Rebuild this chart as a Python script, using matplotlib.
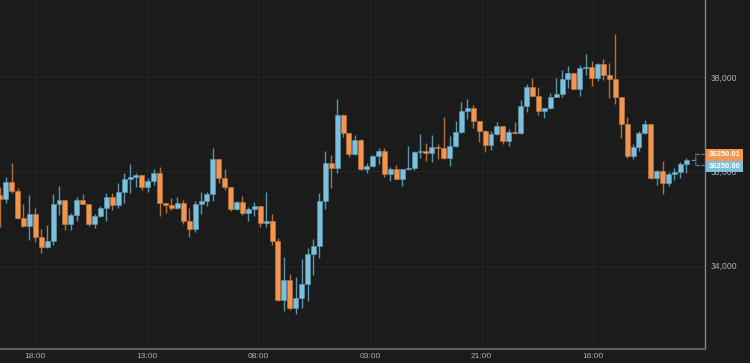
import matplotlib
matplotlib.use("Agg")
import matplotlib.pyplot as plt
import matplotlib.transforms as mtransforms
from matplotlib.ticker import FuncFormatter
import numpy as np

plt.rcParams['font.family'] = ['Liberation Sans', 'DejaVu Sans']

# hourly candles
opens = [35497, 35406, 35766, 35582, 35003, 34839, 35094, 34613, 34394, 34528,
         35300, 35385, 34876, 35066, 35391, 35306, 34876, 35052, 35215, 35448,
         35285, 35567, 35836, 35885, 35921, 35673, 35800, 35970, 35321, 35279,
         35215, 35334, 34952, 34769, 35300, 35363, 35512, 36254, 35851, 35660,
         35200, 35342, 35122, 35200, 35264, 34893, 34952, 34521, 33270, 33694,
         33094, 33323, 33616, 34239, 34426, 35370, 36182, 36063, 37194, 36806,
         36367, 36674, 36042, 36118, 36318, 36426, 35942, 36053, 35841, 36048,
         36070, 36409, 36441, 36398, 36521, 36504, 36282, 36536, 36840, 37289,
         37336, 37073, 36861, 36557, 36791, 36960, 36642, 36840, 36812, 37395,
         37794, 37603, 37283, 37342, 37586, 37639, 37951, 38078, 37741, 38191,
         38222, 37985, 38269, 38036, 37947, 37569, 37003, 36328, 36521, 36806,
         37003, 35868, 36006, 35745, 35936, 35981, 36148]
closes = [35406, 35766, 35582, 35003, 34839, 35094, 34613, 34394, 34528, 35300,
          35385, 34876, 35066, 35391, 35306, 34876, 35052, 35215, 35448, 35285,
          35567, 35836, 35885, 35921, 35673, 35800, 35970, 35321, 35279, 35215,
          35334, 34952, 34769, 35300, 35363, 35512, 36254, 35851, 35660, 35200,
          35342, 35122, 35200, 35264, 34893, 34952, 34521, 33270, 33694, 33094,
          33323, 33616, 34239, 34426, 35370, 36182, 36063, 37194, 36806, 36367,
          36674, 36042, 36118, 36318, 36426, 35942, 36053, 35841, 36048, 36070,
          36409, 36441, 36398, 36521, 36504, 36282, 36536, 36840, 37289, 37336,
          37073, 36861, 36557, 36791, 36960, 36642, 36840, 36812, 37395, 37794,
          37603, 37283, 37342, 37586, 37639, 37951, 38078, 37741, 38191, 38222,
          37985, 38269, 38036, 37947, 37569, 37003, 36328, 36521, 36806, 37003,
          35868, 36006, 35745, 35936, 35981, 36148, 36250]
highs = [35673, 35872, 36182, 35639, 35306, 35497, 35215, 34769, 34854, 35518,
         35694, 35391, 35122, 35448, 35518, 35310, 35094, 35270, 35546, 35546,
         35758, 35957, 36155, 35957, 35921, 35851, 36048, 36085, 35334, 35427,
         35461, 35391, 35215, 35370, 35554, 35567, 36494, 36260, 36044, 35665,
         35370, 35476, 35249, 35342, 35270, 35554, 35090, 34579, 34176, 33821,
         33764, 34135, 34383, 34557, 35539, 36430, 36339, 37527, 37209, 36815,
         36770, 36678, 36169, 36345, 36494, 36494, 36097, 36133, 36048, 36536,
         36420, 36791, 36606, 36770, 36579, 37158, 36748, 37077, 37470, 37533,
         37406, 37077, 36870, 36844, 37035, 36965, 36897, 37035, 37518, 37851,
         37972, 37794, 37350, 37650, 37972, 38148, 38233, 38085, 38254, 38494,
         38339, 38290, 38375, 38290, 38912, 37575, 37158, 36589, 36865, 37088,
         37008, 36038, 36218, 35991, 36080, 36203, 36292]
lows = [34825, 35334, 35546, 34982, 34825, 34543, 34506, 34273, 34367, 34437,
        35079, 34755, 34755, 34946, 35296, 34839, 34803, 35037, 34946, 35179,
        35215, 35334, 35533, 35673, 35603, 35567, 35709, 35052, 35109, 35179,
        35206, 34876, 34600, 34719, 35094, 35270, 35380, 35752, 35609, 35158,
        35185, 35073, 34956, 35052, 34818, 34812, 34437, 33249, 33043, 33058,
        32967, 33111, 33249, 33807, 34161, 35194, 35652, 35957, 36734, 36297,
        36345, 36027, 35957, 36085, 36165, 35885, 35794, 35830, 35688, 36027,
        36027, 36275, 36218, 36203, 36254, 36254, 36112, 36515, 36812, 37113,
        36912, 36627, 36415, 36451, 36770, 36572, 36543, 36801, 36791, 37257,
        37597, 37200, 37137, 37321, 37576, 37569, 37766, 37735, 37597, 38042,
        37809, 37915, 37936, 37561, 37427, 36700, 36292, 36254, 36437, 36791,
        35830, 35699, 35512, 35694, 35815, 35851, 35964]

time_labels = ['18:00', '13:00', '08:00', '03:00', '21:00', '16:00']
time_ticks = [5.95, 24.82, 43.69, 62.56, 81.43, 100.3]
price_ticks = [34000, 36000, 38000]
ask_label = '36250.01'
bid_label = '36250.00'

BG = '#1b1b1b'
UP = '#7cc0dd'
DOWN = '#f0964f'
UP_WICK = '#5a93ab'
DOWN_WICK = '#b0703d'
TXT = '#b0b0b0'

o = np.array(opens, dtype=float)
c = np.array(closes, dtype=float)
h = np.array(highs, dtype=float)
l = np.array(lows, dtype=float)
x = np.arange(len(o))
up = c >= o

fig = plt.figure(figsize=(7.5, 3.63), dpi=100, facecolor=BG)
ax = fig.add_axes([0, 14 / 363, 705 / 750, 349 / 363], facecolor=BG)

# grid
for t in time_ticks:
    ax.axvline(t, color='#252525', lw=0.8, zorder=0)
for p in price_ticks:
    ax.axhline(p, color='#252525', lw=0.8, zorder=0)

# wicks
ax.vlines(x[up], l[up], h[up], color=UP_WICK, lw=1.0, zorder=1)
ax.vlines(x[~up], l[~up], h[~up], color=DOWN_WICK, lw=1.0, zorder=1)

# bodies
body_low = np.minimum(o, c)
body_h = np.maximum(np.abs(c - o), 18)
ax.bar(x[up], body_h[up], bottom=body_low[up], width=0.84, color=UP,
       edgecolor='#5d9fbb', linewidth=0.4, zorder=2)
ax.bar(x[~up], body_h[~up], bottom=body_low[~up], width=0.84, color=DOWN,
       edgecolor='#c97a3f', linewidth=0.4, zorder=2)

ax.set_xlim(0.03, 119.16)
ax.set_ylim(32231, 39633)

ax.set_xticks(time_ticks)
ax.set_xticklabels(time_labels, fontsize=6.0)
ax.set_yticks(price_ticks)
ax.yaxis.set_major_formatter(FuncFormatter(lambda v, pos: f'{v:,.0f}'))
ax.yaxis.tick_right()
ax.tick_params(axis='both', length=0, colors=TXT)
ax.tick_params(axis='x', pad=3)
ax.tick_params(axis='y', pad=4, labelsize=6.2)

for side in ['top', 'left']:
    ax.spines[side].set_visible(False)
ax.spines['bottom'].set_color('#5e5e5e')
ax.spines['bottom'].set_linewidth(1.6)
ax.spines['right'].set_color('#858585')
ax.spines['right'].set_linewidth(1.0)

# last price markers
last = c[-1]
up_off = mtransforms.ScaledTranslation(0, 0.058, fig.dpi_scale_trans)
dn_off = mtransforms.ScaledTranslation(0, -0.058, fig.dpi_scale_trans)
xe = x[-1] + 1.6
dash = (0, (2.5, 1.5))
ax.plot([xe, 119.16], [last, last], transform=ax.transData + up_off,
        color=DOWN_WICK, lw=0.9, ls=dash, clip_on=False, zorder=3)
ax.plot([xe, 119.16], [last, last], transform=ax.transData + dn_off,
        color=UP_WICK, lw=0.9, ls=dash, clip_on=False, zorder=3)
ax.annotate('', xy=(xe, last), xycoords=ax.transData + up_off,
            xytext=(xe, last), textcoords=ax.transData + dn_off,
            arrowprops=dict(arrowstyle='-', color='#7a6a5a', lw=0.9, ls=dash,
                            shrinkA=0, shrinkB=0))
ax.plot([x[-1] + 1.0, x[-1] + 1.4], [last, last], color=UP_WICK, lw=0.9, zorder=3)

lab_tr = mtransforms.blended_transform_factory(ax.transAxes, ax.transData)
ax.text(1.0, last, ask_label,
        transform=lab_tr + mtransforms.ScaledTranslation(0.035, 0.046, fig.dpi_scale_trans),
        ha='left', va='center', fontsize=5.5, color='white', fontweight='bold',
        bbox=dict(boxstyle='square,pad=0.3', fc=DOWN, ec='none'), clip_on=False, zorder=5)
ax.text(1.0, last, bid_label,
        transform=lab_tr + mtransforms.ScaledTranslation(0.035, -0.07, fig.dpi_scale_trans),
        ha='left', va='center', fontsize=5.5, color='white', fontweight='bold',
        bbox=dict(boxstyle='square,pad=0.3', fc=UP, ec='none'), clip_on=False, zorder=5)

fig.savefig('out.png', dpi=100, facecolor=BG)
